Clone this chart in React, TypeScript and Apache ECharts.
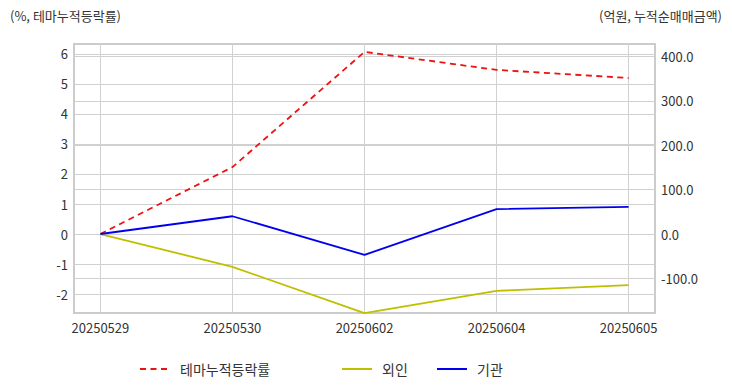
import React, { useEffect, useRef } from "react";
import * as echarts from "echarts";

const dates = ["20250529", "20250530", "20250602", "20250604", "20250605"];
const themeReturn = [0, 2.23, 6.07, 5.47, 5.2];
const foreign = [0, -74, -178, -128, -115];
const institution = [0, 40, -47, 56, 61];
const leftTicks = [-2, -1, 0, 1, 2, 3, 4, 5, 6];
const rightTicks = [-100, 0, 100, 200, 300, 400];
const xTicks = [0, 1, 2, 3, 4];

const FONT = "'Noto Sans CJK KR', 'Noto Sans', sans-serif";

export default function App() {
  const ref = useRef<HTMLDivElement>(null);
  useEffect(() => {
    document.body.style.margin = "0";
    const chart = echarts.init(ref.current!, null, { renderer: "svg" });
    const grid = "#d0d0d0";
    const labelStyle = { color: "#333", fontSize: 13, fontFamily: FONT };
    const legendText = { color: "#333", fontSize: 14, fontFamily: FONT, padding: [0, 0, 0, 5] };
    const legendBase = {
      top: 362,
      padding: 0,
      itemWidth: 30,
      itemHeight: 14,
      itemStyle: { opacity: 0 },
      textStyle: legendText,
    };
    chart.setOption({
      animation: false,
      textStyle: { fontFamily: FONT },
      graphic: [
        {
          type: "text",
          left: 10,
          top: 9,
          style: { text: "(%, 테마누적등락률)", fontSize: 13, fill: "#333", fontFamily: FONT },
        },
        {
          type: "text",
          right: 10,
          top: 9,
          style: { text: "(억원, 누적순매매금액)", fontSize: 13, fill: "#333", fontFamily: FONT },
        },
      ],
      grid: {
        left: 74,
        right: 77,
        top: 44,
        bottom: 79,
        show: true,
        borderColor: "#cccccc",
        borderWidth: 2,
        containLabel: false,
      },
      legend: [
        { ...legendBase, data: ["테마누적등락률"], left: 139 },
        { ...legendBase, data: ["외인"], left: 341 },
        { ...legendBase, data: ["기관"], left: 436 },
      ],
      xAxis: {
        type: "value",
        min: -0.2,
        max: 4.2,
        axisLine: { show: false },
        axisTick: { show: false, customValues: xTicks },
        axisLabel: {
          ...labelStyle,
          customValues: xTicks,
          margin: 8,
          formatter: (v: number) => dates[Math.round(v)] ?? "",
        },
        splitLine: { show: true, lineStyle: { color: grid, width: 1 } },
      },
      yAxis: [
        {
          type: "value",
          min: -2.633,
          max: 6.333,
          axisLine: { show: false },
          axisTick: { show: false, customValues: leftTicks },
          axisLabel: { ...labelStyle, customValues: leftTicks, margin: 6 },
          splitLine: { show: true, lineStyle: { color: grid, width: 1 } },
        },
        {
          type: "value",
          min: -177.9,
          max: 427.9,
          axisLine: { show: false },
          axisTick: { show: false, customValues: rightTicks },
          axisLabel: {
            ...labelStyle,
            customValues: rightTicks,
            margin: 6,
            formatter: (v: number) => v.toFixed(1),
          },
          splitLine: { show: true, lineStyle: { color: grid, width: 1 } },
        },
      ],
      series: [
        {
          name: "테마누적등락률",
          type: "line",
          yAxisIndex: 0,
          symbol: "none",
          data: themeReturn.map((v, i) => [i, v]),
          lineStyle: { color: "#ee1111", width: 1.8, type: [6, 4.5] },
          itemStyle: { color: "#ee1111" },
        },
        {
          name: "외인",
          type: "line",
          yAxisIndex: 1,
          symbol: "none",
          data: foreign.map((v, i) => [i, v]),
          lineStyle: { color: "#bfbf00", width: 1.8 },
          itemStyle: { color: "#bfbf00" },
        },
        {
          name: "기관",
          type: "line",
          yAxisIndex: 1,
          symbol: "none",
          data: institution.map((v, i) => [i, v]),
          lineStyle: { color: "#0000ee", width: 1.8 },
          itemStyle: { color: "#0000ee" },
        },
      ],
    });
    return () => chart.dispose();
  }, []);
  return <div ref={ref} style={{ width: 732, height: 392 }} />;
}
